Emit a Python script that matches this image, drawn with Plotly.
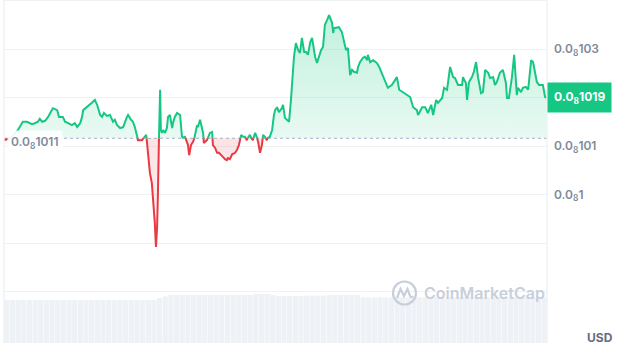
import plotly.graph_objects as go

# ---------------- data ----------------
# minutes since start of the 24h window
T = [0, 11, 21, 37, 50, 61, 74, 82, 90, 95, 101, 109, 117, 127, 130, 141, 146, 156, 162, 170,
     180, 188, 194, 202, 207, 210, 220, 233, 241, 247, 255, 260, 265, 273, 281, 289, 294, 300, 308, 316,
     326, 329, 337, 342, 347, 353, 355, 366, 371, 377, 379, 382, 387, 392, 395, 400, 403, 406, 408, 411,
     414, 416, 419, 422, 427, 432, 435, 440, 446, 448, 453, 459, 467, 472, 475, 480, 485, 488, 491, 496,
     501, 504, 509, 512, 514, 520, 522, 528, 530, 538, 541, 546, 552, 554, 560, 565, 570, 575, 581, 586,
     591, 594, 599, 605, 613, 618, 623, 629, 634, 639, 644, 647, 652, 658, 660, 666, 671, 674, 679, 684,
     687, 692, 697, 700, 705, 711, 716, 719, 724, 729, 737, 740, 745, 751, 756, 761, 764, 769, 774, 780,
     785, 790, 796, 801, 806, 812, 817, 819, 825, 830, 835, 841, 846, 851, 857, 862, 870, 873, 875, 883,
     888, 896, 899, 907, 912, 918, 923, 928, 936, 939, 944, 952, 957, 963, 965, 971, 979, 989, 995, 1002,
     1010, 1018, 1029, 1037, 1042, 1048, 1058, 1069, 1077, 1085, 1095, 1098, 1109, 1117, 1124, 1133, 1138, 1146, 1151, 1162,
     1167, 1175, 1183, 1191, 1196, 1204, 1215, 1217, 1225, 1228, 1233, 1241, 1246, 1252, 1257, 1265, 1270, 1276, 1284, 1289,
     1297, 1302, 1307, 1315, 1323, 1331, 1334, 1339, 1347, 1353, 1360, 1363, 1371, 1376, 1384, 1390, 1398, 1403, 1413, 1419,
     1429, 1435, 1440]

# price in units of 1e-9 USD
P = [1.0112, 1.0114, 1.0119, 1.0133, 1.0150, 1.0150, 1.0145, 1.0147, 1.0150, 1.0156, 1.0150, 1.0152, 1.0160, 1.0174, 1.0178, 1.0174, 1.0160, 1.0160, 1.0150, 1.0147,
     1.0143, 1.0147, 1.0139, 1.0147, 1.0160, 1.0174, 1.0180, 1.0189, 1.0195, 1.0185, 1.0164, 1.0160, 1.0168, 1.0162, 1.0164, 1.0150, 1.0154, 1.0143, 1.0137, 1.0139,
     1.0160, 1.0164, 1.0154, 1.0150, 1.0139, 1.0123, 1.0112, 1.0112, 1.0117, 1.0123, 1.0110, 1.0077, 1.0044, 1.0024, 0.9995, 0.9941, 0.9892, 0.9933, 0.9995, 1.0117,
     1.0216, 1.0133, 1.0127, 1.0133, 1.0127, 1.0137, 1.0160, 1.0164, 1.0137, 1.0147, 1.0160, 1.0168, 1.0164, 1.0119, 1.0117, 1.0119, 1.0108, 1.0102, 1.0081, 1.0102,
     1.0108, 1.0112, 1.0137, 1.0143, 1.0139, 1.0154, 1.0147, 1.0127, 1.0106, 1.0112, 1.0117, 1.0127, 1.0129, 1.0102, 1.0096, 1.0086, 1.0086, 1.0081, 1.0077, 1.0073,
     1.0071, 1.0075, 1.0073, 1.0083, 1.0086, 1.0092, 1.0102, 1.0123, 1.0119, 1.0119, 1.0112, 1.0117, 1.0123, 1.0112, 1.0112, 1.0127, 1.0117, 1.0108, 1.0086, 1.0102,
     1.0123, 1.0119, 1.0112, 1.0117, 1.0119, 1.0133, 1.0164, 1.0174, 1.0180, 1.0170, 1.0178, 1.0185, 1.0158, 1.0154, 1.0150, 1.0195, 1.0236, 1.0284, 1.0312, 1.0298,
     1.0292, 1.0323, 1.0294, 1.0294, 1.0288, 1.0314, 1.0323, 1.0314, 1.0284, 1.0271, 1.0282, 1.0298, 1.0304, 1.0350, 1.0360, 1.0370, 1.0354, 1.0333, 1.0343, 1.0345,
     1.0345, 1.0335, 1.0325, 1.0298, 1.0302, 1.0246, 1.0257, 1.0253, 1.0251, 1.0263, 1.0273, 1.0282, 1.0284, 1.0277, 1.0288, 1.0273, 1.0277, 1.0271, 1.0263, 1.0251,
     1.0236, 1.0220, 1.0226, 1.0236, 1.0242, 1.0216, 1.0211, 1.0205, 1.0201, 1.0180, 1.0174, 1.0164, 1.0180, 1.0180, 1.0168, 1.0185, 1.0164, 1.0195, 1.0189, 1.0199,
     1.0220, 1.0216, 1.0263, 1.0242, 1.0240, 1.0226, 1.0226, 1.0242, 1.0230, 1.0195, 1.0232, 1.0242, 1.0253, 1.0273, 1.0242, 1.0209, 1.0211, 1.0257, 1.0251, 1.0240,
     1.0242, 1.0226, 1.0232, 1.0251, 1.0257, 1.0230, 1.0199, 1.0199, 1.0242, 1.0288, 1.0205, 1.0220, 1.0211, 1.0220, 1.0222, 1.0216, 1.0277, 1.0273, 1.0232, 1.0226,
     1.0226, 1.0201, 1.0199]

BASE = 1.0116          # opening price (dotted reference line), 1e-9 USD
BASE_LABEL = "0.0<sub>8</sub>1011"
LAST_LABEL = "0.0<sub>8</sub>1019"

# y-axis grid values (1e-9 USD) and their labels
TICK_VALS = [0.98, 0.99, 1.00, 1.01, 1.02, 1.03]
TICK_TEXT = ["", "", "0.0<sub>8</sub>1", "0.0<sub>8</sub>101", "", "0.0<sub>8</sub>103"]

# volume, 15-minute bars (arbitrary units)
VOL = [4.3] * 0 + [4.3, 4.3, 4.3, 4.3, 4.3, 4.3, 4.3, 4.3, 4.3, 4.3, 4.3, 4.3, 4.3, 4.3, 4.3, 4.3, 4.3, 4.3, 4.3, 4.3,
       4.3, 4.3, 4.3, 4.3, 4.3, 4.3, 4.3, 4.5, 4.65, 4.8, 4.8, 4.8, 4.8, 4.8, 4.8, 4.8, 4.8, 4.8, 4.8, 4.8,
       4.8, 4.8, 4.8, 4.8, 4.9, 4.9, 4.9, 4.8, 4.7, 4.7, 4.7, 4.7, 4.7, 4.73, 4.73, 4.73, 4.73, 4.8, 4.8, 4.8,
       4.8, 4.8, 4.8, 4.57, 4.57, 4.57, 4.57, 4.57, 4.57, 4.57, 4.57, 4.57, 4.57, 4.57, 4.57, 4.57, 4.57, 4.57, 4.57, 4.57,
       4.57, 4.57, 4.57, 4.57, 4.57, 4.57, 4.57, 4.57, 4.57, 4.57, 4.57, 4.57, 4.57, 4.57, 4.57, 4.57]
VOL_T = [7.5 + 15 * k for k in range(len(VOL))]

GREEN = "#16c784"
RED = "#ea3943"
GRID = "#eff2f5"
LABEL = "#808a9d"
FONT = "Inter"

# ---------------- split into above / below base ----------------
xs, ys = [], []
for i in range(len(T)):
    if i > 0:
        a, b = P[i - 1] - BASE, P[i] - BASE
        if a * b < 0:
            f = a / (a - b)
            xs.append(T[i - 1] + f * (T[i] - T[i - 1]))
            ys.append(BASE)
    xs.append(T[i])
    ys.append(P[i])

S = 1e-9
green_line = [y * S if y >= BASE else None for y in ys]
red_line = [y * S if y <= BASE else None for y in ys]
green_fill = [max(y, BASE) * S for y in ys]
red_fill = [min(y, BASE) * S for y in ys]
base_y = [BASE * S for _ in xs]

fig = go.Figure()
fig.add_trace(go.Bar(x=VOL_T, y=VOL, marker=dict(color="#eef1f5", line=dict(width=0)),
                     yaxis="y2", hoverinfo="skip"))
fig.add_trace(go.Scatter(x=xs, y=base_y, mode="lines", line=dict(width=0), hoverinfo="skip"))
fig.add_trace(go.Scatter(x=xs, y=green_fill, mode="lines", line=dict(width=0), fill="tonexty",
                         fillgradient=dict(type="vertical", start=BASE * S, stop=1.037 * S,
                                           colorscale=[[0, "rgba(22,199,132,0.10)"], [1, "rgba(22,199,132,0.26)"]]),
                         hoverinfo="skip"))
fig.add_trace(go.Scatter(x=xs, y=base_y, mode="lines", line=dict(width=0), hoverinfo="skip"))
fig.add_trace(go.Scatter(x=xs, y=red_fill, mode="lines", line=dict(width=0), fill="tonexty",
                         fillgradient=dict(type="vertical", start=0.989 * S, stop=BASE * S,
                                           colorscale=[[0, "rgba(234,57,67,0.06)"], [1, "rgba(234,57,67,0.14)"]]),
                         hoverinfo="skip"))
fig.add_trace(go.Scatter(x=[T[0], T[-1]], y=[BASE * S, BASE * S], mode="lines",
                         line=dict(color="#a6b0c3", width=1.2, dash="dot"), hoverinfo="skip"))
fig.add_trace(go.Scatter(x=xs, y=red_line, mode="lines", line=dict(color=RED, width=2), hoverinfo="skip"))
fig.add_trace(go.Scatter(x=xs, y=green_line, mode="lines", line=dict(color=GREEN, width=2), hoverinfo="skip"))

PLOT_H = 343
px_per_unit = 48.5 / 0.01
y_top = 1.03 + 49 / px_per_unit
y_bot = 0.99 - 100 / px_per_unit

fig.update_layout(
    width=620, height=347,
    margin=dict(l=4, r=73, t=0, b=4),
    paper_bgcolor="white", plot_bgcolor="white",
    showlegend=False, bargap=0.08,
    font=dict(family=FONT, color=LABEL),
    xaxis=dict(range=[T[0], T[-1]], showgrid=False, zeroline=False, showticklabels=False,
               showline=False, fixedrange=True),
    yaxis=dict(range=[y_bot * S, y_top * S], side="right", tickvals=[v * S for v in TICK_VALS],
               ticktext=TICK_TEXT, showgrid=True, gridcolor=GRID, gridwidth=1, zeroline=False,
               ticks="", ticklabelstandoff=6,
               tickfont=dict(family=FONT, size=12, color=LABEL, weight=600)),
    yaxis2=dict(domain=[0, 50 / PLOT_H], range=[0, 5], showgrid=False, zeroline=False,
                showticklabels=False, anchor="x"),
    shapes=[
        dict(type="line", xref="paper", yref="paper", x0=0, x1=0, y0=0, y1=1, line=dict(color=GRID, width=1.5)),
        dict(type="line", xref="paper", yref="paper", x0=1, x1=1, y0=0, y1=1, line=dict(color=GRID, width=1.5)),
        dict(type="line", xref="paper", yref="paper", x0=0, x1=1, y0=1, y1=1, line=dict(color=GRID, width=2)),
        # CoinMarketCap logo
        dict(type="circle", xref="paper", yref="paper", x0=(393 - 4) / 543, x1=(416 - 4) / 543,
             y0=1 - 304.5 / 343, y1=1 - 281.5 / 343, line=dict(color="#c8cfdb", width=2.2)),
        dict(type="path", xref="paper", yref="paper",
             path="M %f,%f L %f,%f L %f,%f L %f,%f L %f,%f Q %f,%f %f,%f" % (
                 (397 - 4) / 543, 1 - 298 / 343, (400.5 - 4) / 543, 1 - 289 / 343,
                 (404 - 4) / 543, 1 - 296 / 343, (407.5 - 4) / 543, 1 - 289 / 343,
                 (410 - 4) / 543, 1 - 296 / 343, (411.5 - 4) / 543, 1 - 298.5 / 343,
                 (413 - 4) / 543, 1 - 296 / 343),
             line=dict(color="#c8cfdb", width=2.2)),
    ],
    annotations=[
        dict(text=BASE_LABEL, xref="paper", yref="y", x=0.006, y=BASE * S, xanchor="left", yanchor="middle",
             yshift=-4, showarrow=False, bgcolor="rgba(255,255,255,0.9)", borderpad=3,
             font=dict(family=FONT, size=12, color=LABEL, weight=600)),
        dict(text=LAST_LABEL, xref="paper", yref="y", x=1, y=P[-1] * S, xanchor="left", yanchor="middle",
             showarrow=False, bgcolor=GREEN, borderpad=6,
             font=dict(family=FONT, size=12, color="white", weight=700)),
        dict(text="CoinMarketCap", xref="paper", yref="paper", x=(484.5 - 4) / 543, y=1 - 293 / 343,
             xanchor="center", yanchor="middle", showarrow=False,
             font=dict(family=FONT, size=16, color="#c8cfdb", weight=600)),
        dict(text="USD", xref="paper", yref="paper", x=(600 - 4) / 543, y=1 - 337 / 343,
             xanchor="center", yanchor="middle", showarrow=False,
             font=dict(family=FONT, size=12, color="#616e85", weight=700)),
    ],
)

fig.write_html("out.html")
